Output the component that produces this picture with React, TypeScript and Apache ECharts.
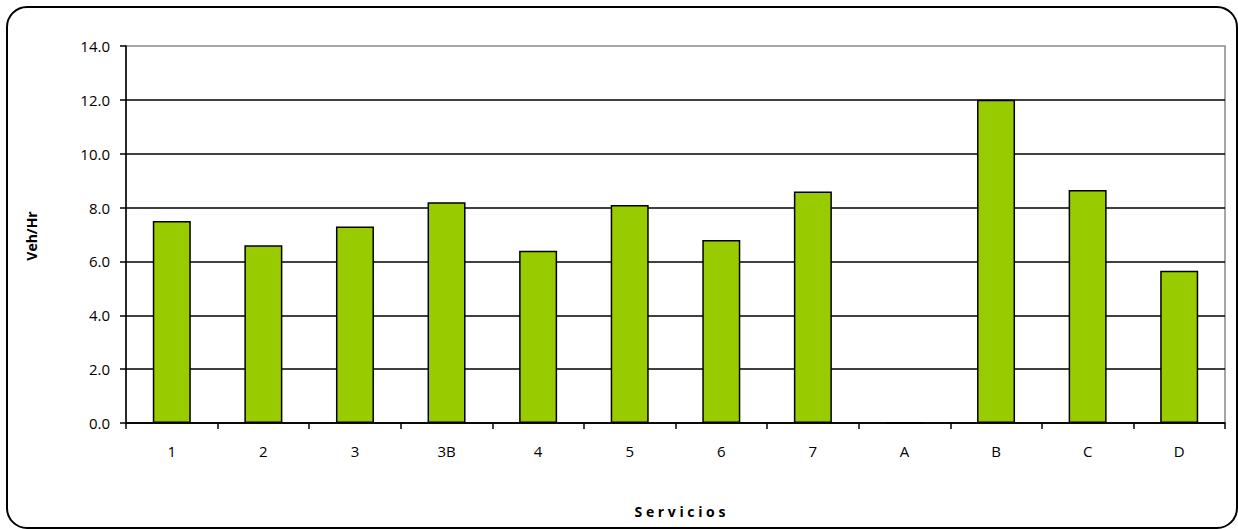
import React, { useEffect, useRef } from "react";
import * as echarts from "echarts";

const categories = ["1", "2", "3", "3B", "4", "5", "6", "7", "A", "B", "C", "D"];
const values = [7.5, 6.6, 7.3, 8.2, 6.4, 8.1, 6.8, 8.6, 0, 12.0, 8.65, 5.65];
const yTicks = { min: 0, max: 14, interval: 2 };

const FONT = "'Open Sans', 'DejaVu Sans', sans-serif";

export default function App() {
  const ref = useRef<HTMLDivElement>(null);
  useEffect(() => {
    if (!ref.current) return;
    const chart = echarts.init(ref.current, undefined, { renderer: "svg" });
    chart.setOption({
      animation: false,
      backgroundColor: "#ffffff",
      grid: {
        left: 126,
        right: 13,
        top: 46,
        bottom: 106,
        show: true,
        borderColor: "#888888",
        borderWidth: 1.5,
      },
      xAxis: {
        type: "category",
        data: categories,
        boundaryGap: true,
        axisLine: { lineStyle: { color: "#000", width: 1.5 } },
        axisTick: { show: true, alignWithLabel: false, length: 6, lineStyle: { color: "#000", width: 1.5 } },
        axisLabel: { color: "#000", fontFamily: FONT, fontSize: 15, margin: 20 },
      },
      yAxis: {
        type: "value",
        min: yTicks.min,
        max: yTicks.max,
        interval: yTicks.interval,
        axisLine: { show: true, lineStyle: { color: "#000", width: 1.5 } },
        axisTick: { show: true, length: 6, lineStyle: { color: "#000", width: 1.5 } },
        axisLabel: {
          color: "#000",
          fontFamily: FONT,
          fontSize: 15,
          margin: 16,
          formatter: (v: number) => v.toFixed(1),
        },
        splitLine: { show: true, showMaxLine: false, lineStyle: { color: "#000", width: 1.5 } },
      },
      series: [
        {
          type: "bar",
          data: values,
          barWidth: 38,
          itemStyle: { color: "#99CC00", borderColor: "#000", borderWidth: 1.5 },
        },
      ],
      graphic: [
        {
          type: "rect",
          shape: { x: 7, y: 7, width: 1230, height: 521, r: 20 },
          style: { fill: "none", stroke: "#000", lineWidth: 2 },
          silent: true,
          z: 100,
        },
        {
          type: "text",
          x: 31,
          y: 236,
          rotation: Math.PI / 2,
          style: {
            text: "Veh/Hr",
            fontFamily: FONT,
            fontWeight: "bold",
            fontSize: 14,
            fill: "#000",
            align: "center",
            verticalAlign: "middle",
          },
        },
        {
          type: "text",
          x: 680,
          y: 511,
          style: {
            text: "S e r v i c i o s",
            fontFamily: FONT,
            fontWeight: "bold",
            fontSize: 14,
            fill: "#000",
            align: "center",
            verticalAlign: "middle",
          },
        },
      ],
    });
    return () => chart.dispose();
  }, []);
  return (
    <div
      ref={ref}
      style={{ position: "fixed", left: 0, top: 0, width: 1238, height: 529 }}
    />
  );
}
